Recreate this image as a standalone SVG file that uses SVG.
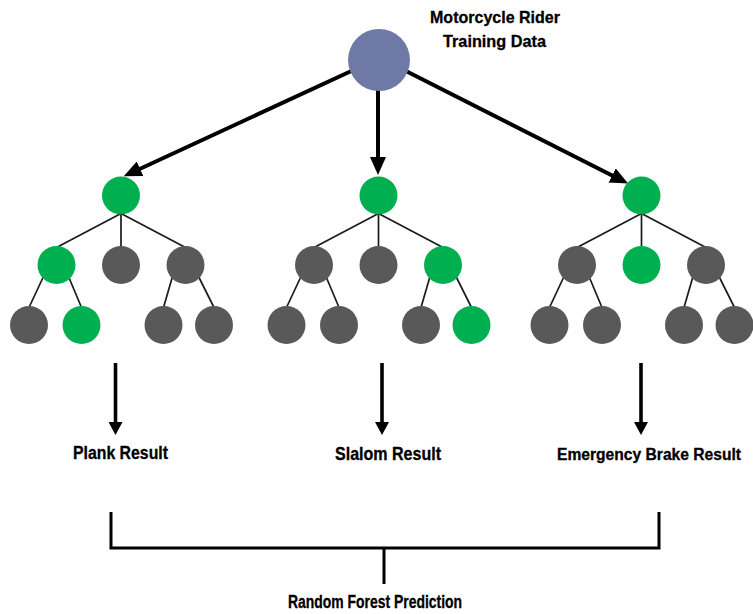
<svg xmlns="http://www.w3.org/2000/svg" width="753" height="614" viewBox="0 0 753 614">
<style>
.g{fill:#00B050}
.d{fill:#595959}
.e{stroke:#1a1a1a;stroke-width:1.7;fill:none}
.a{stroke:#000;stroke-width:4;fill:none}
.b{stroke:#000;stroke-width:3;fill:none}
.t{font-family:"Liberation Sans",Arial,sans-serif;font-weight:bold;fill:#000;stroke:#000;stroke-width:0.3}
</style>
<defs>
<marker id="ah" markerUnits="userSpaceOnUse" markerWidth="18" markerHeight="16" refX="10" refY="8" orient="auto">
<path d="M0,0 L18,8 L0,16 z" fill="#000"/>
</marker>
<marker id="as" markerUnits="userSpaceOnUse" markerWidth="14" markerHeight="14" refX="5" refY="7" orient="auto">
<path d="M0,0 L13,7 L0,14 z" fill="#000"/>
</marker>
</defs>
<rect width="753" height="614" fill="#fff"/>
<g id="connectors">
<line class="a" x1="360" y1="67" x2="131" y2="173" marker-end="url(#ah)"/>
<line class="a" x1="378" y1="80" x2="378" y2="167" marker-end="url(#ah)"/>
<line class="a" x1="398" y1="67" x2="621" y2="180" marker-end="url(#ah)"/>
<line class="b" x1="115.5" y1="363" x2="115.5" y2="427" marker-end="url(#as)" style="stroke-width:3.6"/>
<line class="b" x1="382" y1="363" x2="382" y2="427" marker-end="url(#as)" style="stroke-width:3.6"/>
<line class="b" x1="641" y1="363" x2="641" y2="427" marker-end="url(#as)" style="stroke-width:3.6"/>
<path class="b" d="M111,512 V548 H659 V512"/>
<line class="b" x1="384" y1="548" x2="384" y2="584"/>
<g transform="translate(121,195.5)">
<line class="e" x1="0" y1="18" x2="-64.5" y2="52"/><line class="e" x1="0" y1="18" x2="0" y2="52"/><line class="e" x1="0" y1="18" x2="64.5" y2="52"/>
<line class="e" x1="-77.5" y1="81" x2="-92" y2="112"/><line class="e" x1="-52.5" y1="81" x2="-39.5" y2="112"/>
<line class="e" x1="51.5" y1="81" x2="42.5" y2="112"/><line class="e" x1="77.5" y1="81" x2="93" y2="112"/>
</g>
<g transform="translate(378.5,195.5)">
<line class="e" x1="0" y1="18" x2="-64.5" y2="52"/><line class="e" x1="0" y1="18" x2="0" y2="52"/><line class="e" x1="0" y1="18" x2="64.5" y2="52"/>
<line class="e" x1="-77.5" y1="81" x2="-92" y2="112"/><line class="e" x1="-52.5" y1="81" x2="-39.5" y2="112"/>
<line class="e" x1="51.5" y1="81" x2="42.5" y2="112"/><line class="e" x1="77.5" y1="81" x2="93" y2="112"/>
</g>
<g transform="translate(641.5,195.5)">
<line class="e" x1="0" y1="18" x2="-64.5" y2="52"/><line class="e" x1="0" y1="18" x2="0" y2="52"/><line class="e" x1="0" y1="18" x2="64.5" y2="52"/>
<line class="e" x1="-77.5" y1="81" x2="-92" y2="112"/><line class="e" x1="-52.5" y1="81" x2="-39.5" y2="112"/>
<line class="e" x1="51.5" y1="81" x2="42.5" y2="112"/><line class="e" x1="77.5" y1="81" x2="93" y2="112"/>
</g>
</g>
<g id="data">
<circle cx="379" cy="60" r="31" fill="#6E79A6"/>
<text class="t" x="430" y="23" font-size="17" textLength="130" lengthAdjust="spacingAndGlyphs">Motorcycle Rider</text>
<text class="t" x="443" y="47" font-size="17" textLength="103" lengthAdjust="spacingAndGlyphs">Training Data</text>
</g>
<g id="tree1" transform="translate(121,195.5)">
<g id="t1-root"><circle class="g" cx="0" cy="0" r="19"/></g>
<g id="t1-n1"><circle class="g" cx="-64.5" cy="69.5" r="19"/></g>
<g id="t1-n2"><circle class="d" cx="0" cy="69.5" r="19"/></g>
<g id="t1-n3"><circle class="d" cx="64.5" cy="69.5" r="19"/></g>
<g id="t1-l1"><circle class="d" cx="-92" cy="129.5" r="19"/></g>
<g id="t1-l2"><circle class="g" cx="-39.5" cy="129.5" r="19"/></g>
<g id="t1-l3"><circle class="d" cx="42.5" cy="129.5" r="19"/></g>
<g id="t1-l4"><circle class="d" cx="93" cy="129.5" r="19"/></g>
</g>
<g id="tree2" transform="translate(378.5,195.5)">
<g id="t2-root"><circle class="g" cx="0" cy="0" r="19"/></g>
<g id="t2-n1"><circle class="d" cx="-64.5" cy="69.5" r="19"/></g>
<g id="t2-n2"><circle class="d" cx="0" cy="69.5" r="19"/></g>
<g id="t2-n3"><circle class="g" cx="64.5" cy="69.5" r="19"/></g>
<g id="t2-l1"><circle class="d" cx="-92" cy="129.5" r="19"/></g>
<g id="t2-l2"><circle class="d" cx="-39.5" cy="129.5" r="19"/></g>
<g id="t2-l3"><circle class="d" cx="42.5" cy="129.5" r="19"/></g>
<g id="t2-l4"><circle class="g" cx="93" cy="129.5" r="19"/></g>
</g>
<g id="tree3" transform="translate(641.5,195.5)">
<g id="t3-root"><circle class="g" cx="0" cy="0" r="19"/></g>
<g id="t3-n1"><circle class="d" cx="-64.5" cy="69.5" r="19"/></g>
<g id="t3-n2"><circle class="g" cx="0" cy="69.5" r="19"/></g>
<g id="t3-n3"><circle class="d" cx="64.5" cy="69.5" r="19"/></g>
<g id="t3-l1"><circle class="d" cx="-92" cy="129.5" r="19"/></g>
<g id="t3-l2"><circle class="d" cx="-39.5" cy="129.5" r="19"/></g>
<g id="t3-l3"><circle class="d" cx="42.5" cy="129.5" r="19"/></g>
<g id="t3-l4"><circle class="d" cx="93" cy="129.5" r="19"/></g>
</g>
<g id="plank"><text class="t" x="73" y="459" font-size="18" textLength="95" lengthAdjust="spacingAndGlyphs">Plank Result</text></g>
<g id="slalom"><text class="t" x="335" y="460" font-size="18" textLength="106" lengthAdjust="spacingAndGlyphs">Slalom Result</text></g>
<g id="brake"><text class="t" x="557" y="460" font-size="16" textLength="184" lengthAdjust="spacingAndGlyphs">Emergency Brake Result</text></g>
<g id="prediction"><text class="t" x="288" y="608" font-size="18" textLength="174" lengthAdjust="spacingAndGlyphs">Random Forest Prediction</text></g>
</svg>
